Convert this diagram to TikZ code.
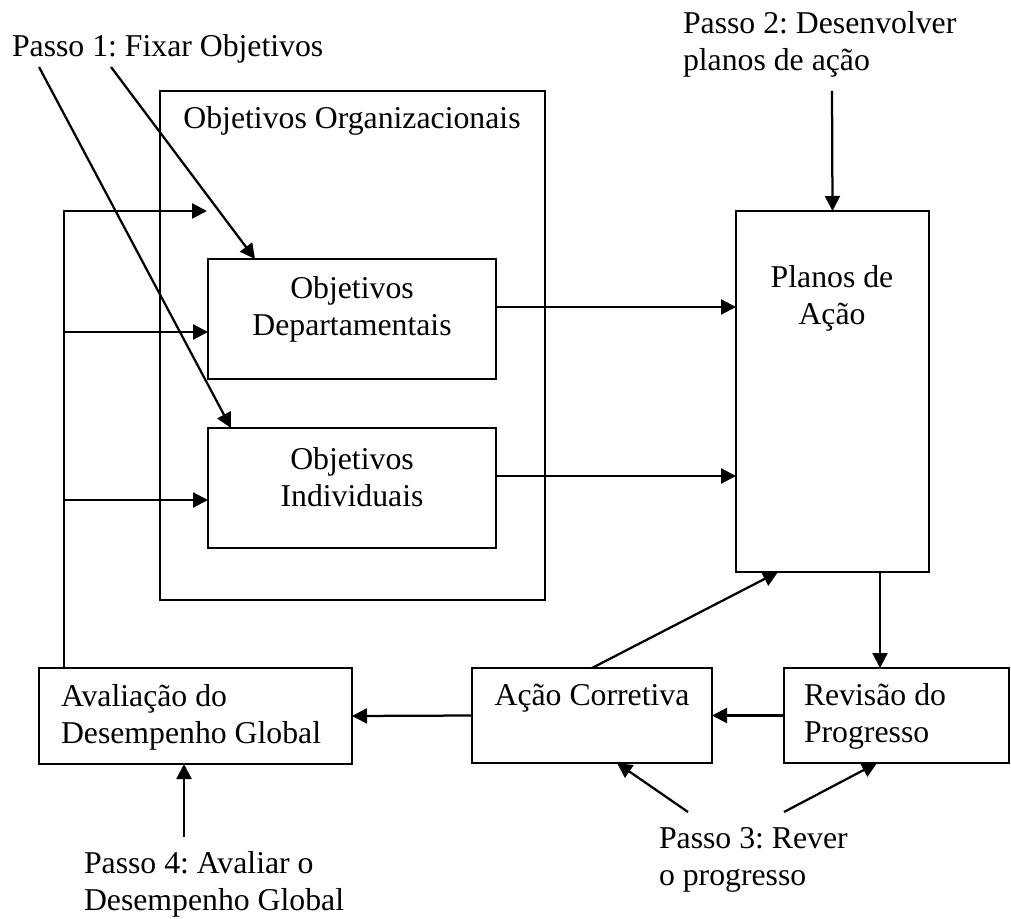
\documentclass[tikz,border=0pt]{standalone}
\usepackage{fontspec}
\setmainfont{Liberation Serif}
\usetikzlibrary{arrows.meta,calc}
\frenchspacing
\begin{document}
\begin{tikzpicture}[x=0.4pt,y=-0.4pt,
  font=\fontsize{12.7}{14.8}\selectfont,
  box/.style={draw, line width=0.9pt, inner sep=0pt, outer sep=0pt},
  txt/.style={inner sep=0pt, outer sep=0pt},
  arr/.style={line width=0.9pt, -{Triangle[length=6pt,width=6pt]}}]
\useasboundingbox (0,0) rectangle (1011,918);
% boxes
\node[box, minimum width=154pt, minimum height=203.6pt] (org) at (352.5,345.5) {};
\node[txt, anchor=base] (orgt) at (352,129) {Objetivos Organizacionais};
\node[box, minimum width=115.2pt, minimum height=48pt] (dep) at (352,319) {};
\node[txt, align=center] (dept) at (352,309) {Objetivos\\Departamentais};
\node[box, minimum width=115.2pt, minimum height=48pt] (ind) at (352,488) {};
\node[txt, align=center] (indt) at (352,477) {Objetivos\\Individuais};
\node[box, minimum width=77.2pt, minimum height=144.4pt] (plan) at (832.5,391.5) {};
\node[txt, align=center] (plant) at (832,298) {Planos de\\Ação};
\node[box, minimum width=125.2pt, minimum height=38.4pt] (aval) at (195.5,716) {};
\node[txt, align=left, anchor=west] (avalt) at (61,717.5) {Avaliação do\\Desempenho Global};
\node[box, minimum width=96pt, minimum height=38pt] (acao) at (592,715.5) {};
\node[txt] (acaot) at (592,698) {Ação Corretiva};
\node[box, minimum width=90pt, minimum height=38pt] (rev) at (896.5,715.5) {};
\node[txt, align=left, anchor=west] (revt) at (804,716.5) {Revisão do\\Progresso};
% step labels
\node[txt, anchor=base west] (p1) at (12,57) {Passo 1: Fixar Objetivos};
\node[txt, align=left, anchor=west] (p2) at (683,44) {Passo 2: Desenvolver\\planos de ação};
\node[txt, align=left, anchor=west] (p3) at (659,859.5) {Passo 3: Rever\\o progresso};
\node[txt, align=left, anchor=west] (p4) at (84,884.5) {Passo 4: Avaliar o\\Desempenho Global};
% free ends
\coordinate (p1a) at (111,67);
\coordinate (p1b) at (39,67);
\coordinate (p2a) at (832,91);
\coordinate (p3a) at (688,812);
\coordinate (p3b) at (784,812);
\coordinate (p4a) at (184,837);
\coordinate (fb) at (64,211);
\coordinate (fbend) at (207,211);
% connectors
\draw[arr] (p1a) -- ($(dep.north west)+(47,0)$);
\draw[arr] (p1b) -- ($(ind.north west)+(23,0)$);
\draw[arr] (p2a) -- (plan.north);
\draw[arr] (aval.north -| fb) -- (fb) -- (fbend);
\draw[arr] (fb |- 0,332) -- (dep.west |- 0,332);
\draw[arr] (fb |- 0,500) -- (ind.west |- 0,500);
\draw[arr] (dep.east |- 0,307) -- (plan.west |- 0,307);
\draw[arr] (ind.east |- 0,476) -- (plan.west |- 0,476);
\draw[arr] (plan.south -| 880,0) -- (rev.north -| 880,0);
\draw[arr] (rev.west) -- (acao.east);
\draw[arr] (acao.west) -- (aval.east);
\draw[arr] (acao.north) -- ($(plan.south west)+(42,0)$);
\draw[arr] (p3a) -- ($(acao.south west)+(145,0)$);
\draw[arr] (p3b) -- ($(rev.south west)+(93,0)$);
\draw[arr] (p4a) -- (aval.south -| p4a);
\end{tikzpicture}
\end{document}
